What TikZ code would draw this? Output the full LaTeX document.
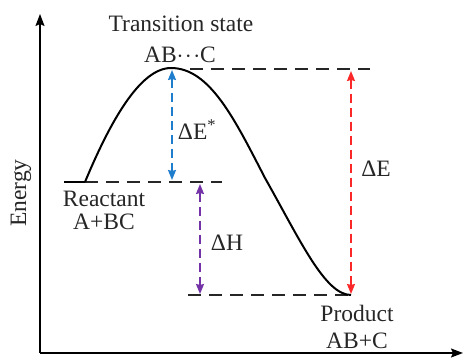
\documentclass[tikz,border=0pt]{standalone}
\usepackage{fontspec}
\setmainfont{Liberation Serif}
\usetikzlibrary{arrows.meta}
\definecolor{cblue}{RGB}{30,125,205}
\definecolor{cred}{RGB}{250,40,40}
\definecolor{cpurple}{RGB}{115,50,165}
\tikzset{
  lbl/.style={font=\fontsize{23.5}{26}\selectfont, inner sep=0pt, text=black!85},
  level/.style={black!85, line width=1.8pt, dash pattern=on 13pt off 8pt},
  gap/.style={line width=1.6pt, dash pattern=on 9pt off 5pt, {Stealth[length=10pt,width=8pt,inset=1pt]}-{Stealth[length=10pt,width=8pt,inset=1pt]}},
  axis/.style={line width=1.5pt, -{Stealth[length=12pt,width=9pt,inset=2pt]}},
}
\begin{document}
\begin{tikzpicture}[x=1pt,y=-1pt]
\useasboundingbox (0,0) rectangle (464,363);
% axes
\coordinate (o) at (40,353);
\coordinate (ytop) at (40,14);
\coordinate (xend) at (463,353);
\draw[axis] (o) -- (ytop);
\draw[axis] (o) -- (xend);
\node[lbl, rotate=90] (energy) at (21,193) {Energy};
% key points
\coordinate (rl) at (64,182);
\coordinate (rs) at (85,182);
\coordinate (re) at (222,182);
\coordinate (ts) at (171,68);
\coordinate (tsl) at (190,69);
\coordinate (tsr) at (370,69);
\coordinate (pl) at (188,295);
\coordinate (pm) at (351,295);
% reactant solid line
\draw[line width=1.8pt] (rl) -- (rs);
\draw[level] (rs) -- (re);
\draw[level] (tsl) -- (tsr);
\draw[level] (pl) -- (pm);
% curve
\draw[line width=2pt] (rs) .. controls (110,122) and (140,68) .. (ts)
  .. controls (210,68) and (235,120) .. (265,178)
  .. controls (300,240) and (325,295) .. (pm);
% arrows
\coordinate (ba) at (172,70);
\coordinate (bb) at (172,180);
\draw[gap, cblue] (ba) -- (bb);
\coordinate (pa) at (200,184);
\coordinate (pb) at (200,294);
\draw[gap, cpurple] (pa) -- (pb);
\coordinate (ra) at (351,71);
\coordinate (rb) at (351,294);
\draw[gap, cred] (ra) -- (rb);
% labels
\node[lbl] (tstate) at (181,23.5) {Transition state};
\node[lbl] (tsform) at (180,54.5) {AB$\cdot\!\cdot\!\cdot$C};
\node[lbl] (dEs) at (197,130) {ΔE\textsuperscript{*}};
\node[lbl] (dH) at (227,242.5) {ΔH};
\node[lbl] (dE) at (376,168.5) {ΔE};
\node[lbl] (react) at (104,198.5) {Reactant};
\node[lbl] (reactf) at (104,221.5) {A+BC};
\node[lbl] (prod) at (357,313.5) {Product};
\node[lbl] (prodf) at (357,341) {AB+C};
\end{tikzpicture}
\end{document}
